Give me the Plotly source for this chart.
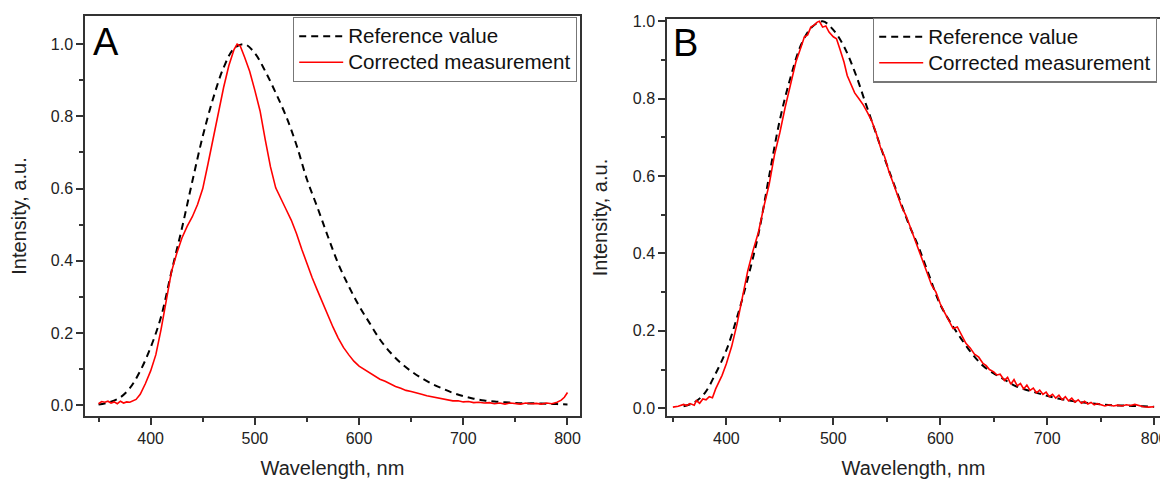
import plotly.graph_objects as go

# ---------------- Panel A data ----------------
a_ref_x = [350, 360, 370, 380, 390, 400, 410, 420, 430, 440, 450, 460, 470, 480, 490,
           500, 510, 520, 530, 540, 550, 560, 570, 580, 590, 600, 610, 620, 630, 640,
           650, 660, 670, 680, 690, 700, 710, 720, 730, 740, 750, 760, 770, 780, 790, 800]
a_ref_y = [0.002, 0.008, 0.020, 0.047, 0.095, 0.160, 0.245, 0.370, 0.490, 0.620, 0.745,
           0.850, 0.935, 0.988, 1.000, 0.975, 0.925, 0.865, 0.800, 0.720, 0.625, 0.548,
           0.468, 0.392, 0.330, 0.275, 0.228, 0.182, 0.146, 0.117, 0.094, 0.075, 0.059,
           0.046, 0.034, 0.025, 0.018, 0.013, 0.010, 0.008, 0.006, 0.005, 0.005, 0.004,
           0.003, 0.002]

a_meas_x = [350, 353, 356, 359, 362, 365, 368, 371, 374, 377, 380, 383, 386, 390, 395,
            400, 405, 410, 415, 420, 425, 430, 435, 440, 445, 450, 455, 460, 465, 470,
            475, 480, 483, 486, 490, 495, 500, 505, 510, 515, 520, 525, 530, 535, 540,
            545, 550, 555, 560, 565, 570, 575, 580, 585, 590, 595, 600, 605, 610, 615,
            620, 625, 630, 635, 640, 645, 650, 655, 660, 665, 670, 675, 680, 685, 690,
            695, 700, 705, 710, 715, 720, 725, 730, 735, 740, 745, 750, 755, 760, 765,
            770, 775, 780, 785, 790, 794, 797, 800]
a_meas_y = [0.004, 0.010, 0.008, 0.011, 0.006, 0.009, 0.004, 0.011, 0.006, 0.009, 0.008,
            0.012, 0.016, 0.030, 0.060, 0.095, 0.140, 0.210, 0.292, 0.370, 0.420, 0.463,
            0.495, 0.522, 0.556, 0.600, 0.668, 0.740, 0.812, 0.880, 0.940, 0.985, 1.000,
            0.995, 0.965, 0.925, 0.872, 0.815, 0.735, 0.660, 0.602, 0.570, 0.542, 0.512,
            0.475, 0.432, 0.390, 0.353, 0.318, 0.283, 0.250, 0.216, 0.186, 0.160, 0.140,
            0.122, 0.108, 0.099, 0.090, 0.082, 0.072, 0.066, 0.058, 0.052, 0.047, 0.041,
            0.038, 0.033, 0.030, 0.026, 0.023, 0.020, 0.017, 0.016, 0.012, 0.012, 0.009,
            0.010, 0.007, 0.008, 0.006, 0.007, 0.004, 0.006, 0.003, 0.006, 0.005, 0.003,
            0.006, 0.004, 0.005, 0.003, 0.006, 0.004, 0.008, 0.014, 0.022, 0.035]

# ---------------- Panel B data ----------------
b_ref_x = [360, 370, 380, 390, 400, 410, 420, 430, 440, 450, 460, 470, 480, 490, 500,
           510, 520, 530, 540, 550, 560, 570, 580, 590, 600, 610, 620, 630, 640, 650,
           660, 670, 680, 690, 700, 710, 720, 730, 740, 750, 760, 770, 780, 790, 800]
b_ref_y = [0.005, 0.015, 0.040, 0.090, 0.150, 0.235, 0.335, 0.450, 0.600, 0.745, 0.855,
           0.940, 0.985, 1.000, 0.978, 0.935, 0.870, 0.790, 0.710, 0.630, 0.555, 0.480,
           0.415, 0.340, 0.268, 0.220, 0.178, 0.140, 0.110, 0.090, 0.074, 0.058, 0.048,
           0.040, 0.032, 0.025, 0.020, 0.016, 0.013, 0.010, 0.008, 0.007, 0.006, 0.005,
           0.004]

b_meas_x = [350, 355, 360, 363, 366, 370, 372, 375, 378, 381, 384, 387, 390, 393, 396,
            400, 405, 410, 415, 420, 425, 430, 435, 440, 445, 450, 455, 460, 465, 470,
            473, 476, 479, 482, 485, 487, 490, 493, 496, 500, 503, 506, 510, 513, 516,
            520, 524, 528, 532, 536, 540, 544, 548, 552, 556, 560, 564, 568, 572, 576,
            580, 584, 588, 592, 596, 600, 604, 608, 612, 616, 620, 624, 628, 632, 636,
            640, 643, 646, 650, 653, 656, 660, 663, 666, 669, 672, 675, 678, 681, 684,
            687, 690, 693, 696, 699, 702, 705, 708, 711, 714, 717, 720, 723, 726, 729,
            732, 735, 738, 741, 744, 747, 750, 754, 758, 762, 766, 770, 774, 778, 782,
            786, 790, 795, 800]
b_meas_y = [0.003, 0.005, 0.010, 0.007, 0.012, 0.008, 0.020, 0.013, 0.024, 0.022, 0.030,
            0.027, 0.050, 0.068, 0.085, 0.115, 0.160, 0.218, 0.288, 0.355, 0.408, 0.455,
            0.520, 0.578, 0.655, 0.712, 0.778, 0.840, 0.895, 0.935, 0.960, 0.965, 0.985,
            0.990, 0.998, 1.000, 0.985, 0.988, 0.972, 0.960, 0.955, 0.930, 0.895, 0.860,
            0.842, 0.815, 0.800, 0.784, 0.764, 0.742, 0.712, 0.675, 0.650, 0.612, 0.582,
            0.548, 0.520, 0.498, 0.468, 0.442, 0.410, 0.378, 0.352, 0.318, 0.300, 0.270,
            0.248, 0.228, 0.206, 0.210, 0.188, 0.168, 0.156, 0.140, 0.132, 0.116, 0.110,
            0.100, 0.094, 0.086, 0.088, 0.072, 0.080, 0.062, 0.074, 0.058, 0.064, 0.050,
            0.060, 0.046, 0.052, 0.040, 0.047, 0.036, 0.042, 0.030, 0.036, 0.026, 0.034,
            0.022, 0.030, 0.019, 0.026, 0.016, 0.022, 0.013, 0.018, 0.011, 0.015, 0.009,
            0.012, 0.010, 0.006, 0.009, 0.006, 0.008, 0.006, 0.009, 0.007, 0.010, 0.006,
            0.004, 0.003, 0.004]

x_tick_vals = [400, 500, 600, 700, 800]
x_minor_vals = [350, 450, 550, 650, 750]
y_tick_vals = [0.0, 0.2, 0.4, 0.6, 0.8, 1.0]
y_tick_text = ["0.0", "0.2", "0.4", "0.6", "0.8", "1.0"]
y_minor_vals = [0.1, 0.3, 0.5, 0.7, 0.9]

# The page body has an 8px default margin, so the figure is 8px smaller
# than the window and every pixel position is measured from (8, 8).
OFF = 8
W, H = 1168 - OFF, 479 - OFF
FONT = "Liberation Sans, Arial, sans-serif"
LEG_SPAN = "<span style='font-size:20.6px'>{}</span>"
REF_NAME = LEG_SPAN.format("Reference value")
MEAS_NAME = LEG_SPAN.format("Corrected measurement")

fig = go.Figure()

dash_style = dict(color="black", width=2, dash="7px,5px")
red_style = dict(color="#ff0000", width=1.6)

fig.add_trace(go.Scatter(x=a_ref_x, y=a_ref_y, mode="lines", name=REF_NAME,
                         line=dash_style, line_shape="spline", xaxis="x", yaxis="y",
                         legend="legend"))
fig.add_trace(go.Scatter(x=a_meas_x, y=a_meas_y, mode="lines", name=MEAS_NAME,
                         line=red_style, xaxis="x", yaxis="y", legend="legend"))
fig.add_trace(go.Scatter(x=b_ref_x, y=b_ref_y, mode="lines", name=REF_NAME,
                         line=dash_style, line_shape="spline", xaxis="x2", yaxis="y2",
                         legend="legend2"))
fig.add_trace(go.Scatter(x=b_meas_x, y=b_meas_y, mode="lines", name=MEAS_NAME,
                         line=red_style, xaxis="x2", yaxis="y2", legend="legend2"))


def px_x(p):
    return (p - OFF) / W


def px_y(p):
    return 1 - (p - OFF) / H


axis_common = dict(
    showline=True, linecolor="#333333", linewidth=1.5, mirror=True,
    ticks="outside", ticklen=7, tickwidth=1.5, tickcolor="#333333",
    showgrid=False, zeroline=False, automargin=False,
    tickfont=dict(family=FONT, size=16, color="#222222"),
)

xa = dict(axis_common, tickvals=x_tick_vals,
          minor=dict(ticks="outside", ticklen=4, tickwidth=1.5, tickcolor="#333333",
                     tickvals=x_minor_vals),
          title=dict(text="Wavelength, nm", font=dict(family=FONT, size=20, color="#222222"),
                     standoff=15))
ya = dict(axis_common, tickvals=y_tick_vals, ticktext=y_tick_text,
          minor=dict(ticks="outside", ticklen=4, tickwidth=1.5, tickcolor="#333333",
                     tickvals=y_minor_vals),
          title=dict(text="Intensity, a.u.", font=dict(family=FONT, size=20, color="#222222"),
                     standoff=20))

legend_common = dict(
    font=dict(family=FONT, size=17.7, color="#111111"),
    bgcolor="white", bordercolor="#777777", borderwidth=1.2,
    xanchor="right", yanchor="top", itemwidth=44, tracegroupgap=0,
    traceorder="normal",
)

fig.update_layout(
    width=W, height=H,
    paper_bgcolor="white", plot_bgcolor="white",
    margin=dict(l=0, r=0, t=0, b=0, pad=0, autoexpand=False),
    xaxis=dict(xa, domain=[px_x(85), px_x(580)], range=[337, 812], anchor="y"),
    yaxis=dict(ya, domain=[px_y(416), px_y(16)], range=[-0.030, 1.078], anchor="x"),
    xaxis2=dict(xa, domain=[px_x(667), px_x(1160)], range=[344.5, 805.5], anchor="y2"),
    yaxis2=dict(ya, domain=[px_y(416), px_y(19)], range=[-0.020, 1.006], anchor="x2"),
    legend=dict(legend_common, x=px_x(577), y=px_y(17)),
    legend2=dict(legend_common, x=px_x(1157), y=px_y(17.5)),
    showlegend=True,
    annotations=[
        dict(text="A", x=px_x(91), y=px_y(42), xref="paper", yref="paper",
             xanchor="left", yanchor="middle", showarrow=False,
             font=dict(family=FONT, size=38, color="black")),
        dict(text="B", x=px_x(671), y=px_y(43), xref="paper", yref="paper",
             xanchor="left", yanchor="middle", showarrow=False,
             font=dict(family=FONT, size=38, color="black")),
    ],
)

fig.write_html("out.html")
